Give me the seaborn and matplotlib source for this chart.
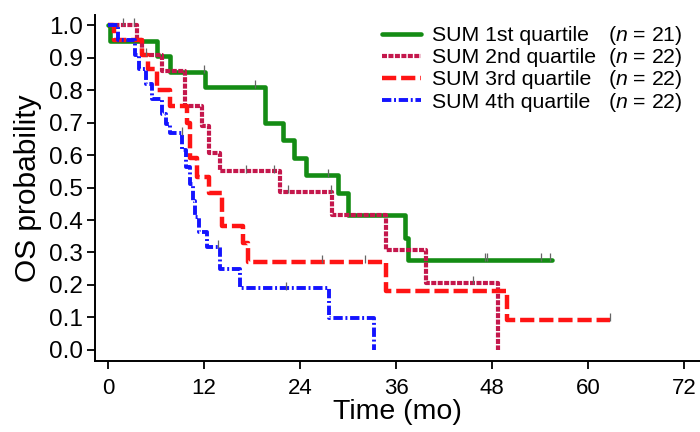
import numpy as np
import pandas as pd
import matplotlib
matplotlib.use("Agg")
import matplotlib.pyplot as plt
from matplotlib.lines import Line2D
import seaborn as sns

# ---------------- data ----------------
q1_time = [0, 0.3, 6.1, 7.75, 12.1, 19.6, 21.9, 23.2, 24.8, 28.8, 30.0, 37.1, 37.5, 55.5]
q1_surv = [1.0, 0.952, 0.905, 0.857, 0.81, 0.70, 0.646, 0.59, 0.538, 0.482, 0.415, 0.344, 0.277, 0.277]
q1_cens = [12.0, 18.4, 27.5, 47.1, 47.4, 54.1, 55.3]

q2_time = [0, 3.6, 4.2, 6.7, 9.6, 11.8, 12.6, 14.0, 21.5, 28.0, 34.8, 39.8, 48.8]
q2_surv = [1.0, 0.955, 0.909, 0.86, 0.75, 0.69, 0.605, 0.55, 0.487, 0.415, 0.308, 0.207, 0.0]
q2_cens = [1.9, 3.2, 4.8, 17.2, 20.8, 22.5, 27.9, 45.6]

q3_time = [0, 0.8, 4.2, 5.0, 6.1, 7.75, 9.9, 10.2, 11.1, 12.6, 14.2, 16.9, 17.5, 34.8, 49.9, 62.7]
q3_surv = [1.0, 0.955, 0.909, 0.864, 0.80, 0.75, 0.70, 0.59, 0.533, 0.482, 0.38, 0.328, 0.272, 0.182, 0.092, 0.092]
q3_cens = [26.7, 32.1, 62.7]

q4_time = [0, 1.3, 3.4, 3.9, 4.8, 5.5, 6.8, 7.3, 7.75, 9.3, 9.8, 10.3, 10.6, 10.9, 11.4, 12.4, 14.0, 16.5, 27.6, 33.2]
q4_surv = [1.0, 0.955, 0.909, 0.864, 0.818, 0.773, 0.727, 0.697, 0.667, 0.615, 0.564, 0.51, 0.46, 0.41, 0.364, 0.318, 0.25, 0.19, 0.097, 0.0]
q4_cens = [9.2, 13.8, 22.3]

group_labels = ["SUM 1st quartile", "SUM 2nd quartile", "SUM 3rd quartile", "SUM 4th quartile"]
group_n = [21, 22, 22, 22]

x_ticks = [0, 12, 24, 36, 48, 60, 72]
y_ticks = [0.0, 0.1, 0.2, 0.3, 0.4, 0.5, 0.6, 0.7, 0.8, 0.9, 1.0]

# ---------------- style ----------------
sns.set_theme(style="ticks")
plt.rcParams["font.family"] = ["Liberation Sans", "DejaVu Sans"]
plt.rcParams["mathtext.fontset"] = "custom"
plt.rcParams["mathtext.rm"] = "Liberation Sans"
plt.rcParams["mathtext.it"] = "Liberation Sans:italic"
for key in ["text.color", "axes.labelcolor", "xtick.color", "ytick.color"]:
    plt.rcParams[key] = "black"

colors = ["#148C14", "#C4174C", "#FF1414", "#1414FF"]
styles = [
    dict(linestyle="-", linewidth=3.3),
    dict(linestyle=(0, (1.2, 0.35)), linewidth=3.0),
    dict(linestyle=(0, (3.2, 1.1)), linewidth=3.2),
    dict(linestyle=(0, (2.4, 0.7, 0.5, 0.7)), linewidth=2.8),
]

fig = plt.figure(figsize=(7.0, 4.32), dpi=100)
ax = fig.add_axes([95 / 700, 71 / 432, 605 / 700, 346 / 432])

series = [(q1_time, q1_surv, q1_cens), (q2_time, q2_surv, q2_cens),
          (q3_time, q3_surv, q3_cens), (q4_time, q4_surv, q4_cens)]

handles = []
for (t, s, c), lab, col, st in zip(series, group_labels, colors, styles):
    df = pd.DataFrame({"time": t, "surv": s})
    sns.lineplot(data=df, x="time", y="surv", ax=ax, estimator=None, sort=False,
                 drawstyle="steps-post", color=col, legend=False, **st)
    t_arr = np.asarray(t)
    s_arr = np.asarray(s)
    idx = np.searchsorted(t_arr, np.asarray(c), side="right") - 1
    ax.plot(c, s_arr[idx] + 0.008, linestyle="none", marker="|", markersize=6,
            markeredgewidth=0.9, color="#666666", zorder=5)
    handles.append(Line2D([], [], color=col, **st))

ax.set_xlim(-1.625, 74)
ax.set_ylim(-0.034, 1.031)
ax.set_xticks(x_ticks)
ax.set_yticks(y_ticks)
ax.set_yticklabels([f"{v:.1f}" for v in y_ticks])
ax.tick_params(axis="both", length=6, width=1.3, color="black", labelcolor="black")
ax.tick_params(axis="x", pad=6, labelsize=16)
ax.tick_params(axis="y", pad=2.5, labelsize=17.5)
for sp in ["top", "right"]:
    ax.spines[sp].set_visible(False)
for sp in ["left", "bottom"]:
    ax.spines[sp].set_linewidth(1.4)
    ax.spines[sp].set_color("black")
ax.set_xlabel("Time (mo)", fontsize=20.5, labelpad=0, color="black")
ax.set_ylabel("OS probability", fontsize=21.5, labelpad=5, color="black")
ax.grid(False)

leg_fs = 15.3
leg1 = fig.legend(handles, group_labels, loc="upper left",
                  bbox_to_anchor=(382 / 700, 1 - 26 / 432), frameon=False,
                  fontsize=leg_fs, handlelength=1.85, handletextpad=0.5,
                  labelspacing=0.15, borderpad=0, borderaxespad=0)
for txt in leg1.get_texts():
    txt.set_color("black")

fig.canvas.draw()
renderer = fig.canvas.get_renderer()
inv = fig.transFigure.inverted()
for txt, n in zip(leg1.get_texts(), group_n):
    bb = txt.get_window_extent(renderer)
    yc = inv.transform((0, (bb.y0 + bb.y1) / 2))[1]
    fig.text(608 / 700, yc, f"($\\it{{n}}$ = {n})", fontsize=leg_fs,
             ha="left", va="center", color="black")

fig.savefig("out.png", dpi=100)
